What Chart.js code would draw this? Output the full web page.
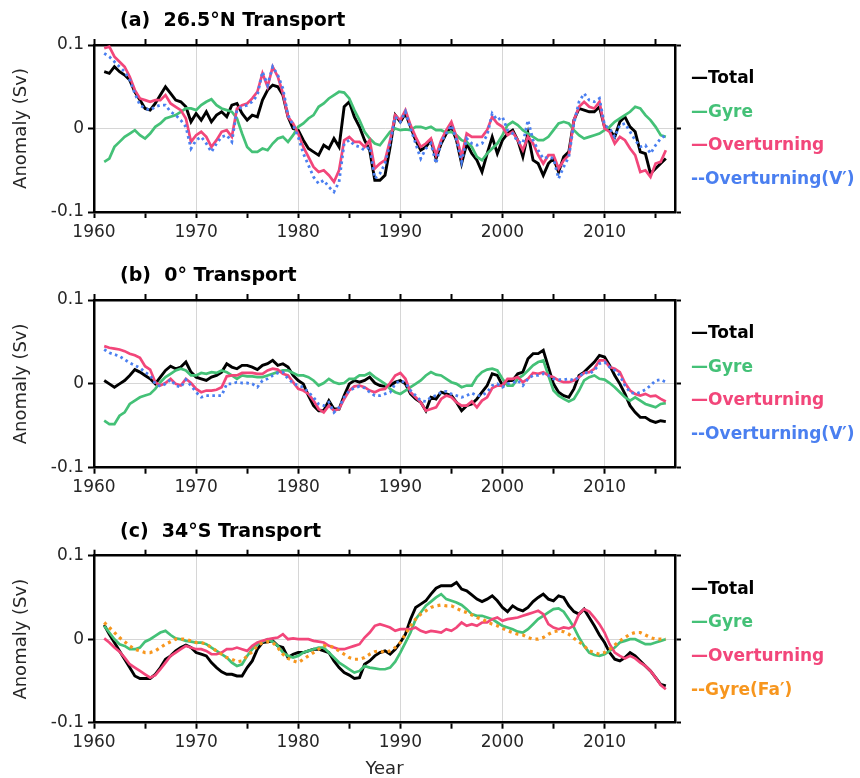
<!DOCTYPE html>
<html>
<head>
<meta charset="utf-8">
<script src="https://cdn.jsdelivr.net/npm/chart.js@4.4.1/dist/chart.umd.min.js"></script>
<style>
  html, body { margin: 0; padding: 0; background: #fff; }
  #wrap { position: relative; width: 860px; height: 778px; }
  canvas { position: absolute; left: 0; }
</style>
</head>
<body>
<div id="wrap">
  <canvas id="panelA" width="860" height="255" style="top:0px"></canvas>
  <canvas id="panelB" width="860" height="255" style="top:255px"></canvas>
  <canvas id="panelC" width="860" height="268" style="top:510px"></canvas>
</div>
<script>
// half-year samples, 1961.0 .. 2016.0
const years = Array.from({ length: 111 }, (_, i) => 1961 + i * 0.5);
const tickYears = [1960, 1965, 1970, 1975, 1980, 1985, 1990, 1995, 2000, 2005, 2010, 2015];
const yTicks = [-0.1, 0, 0.1];

// (a) 26.5N
const aTotal = [
  0.068, 0.066, 0.074, 0.068, 0.064, 0.058, 0.044, 0.034, 0.024, 0.022,
  0.030, 0.040, 0.050, 0.042, 0.034, 0.032, 0.026, 0.008, 0.018, 0.010,
  0.020, 0.008, 0.016, 0.020, 0.014, 0.028, 0.030, 0.018, 0.010, 0.016,
  0.014, 0.034, 0.046, 0.052, 0.050, 0.040, 0.014, 0.000, -0.002, -0.014,
  -0.024, -0.028, -0.032, -0.020, -0.024, -0.012, -0.022, 0.026, 0.032, 0.014,
  0.002, -0.014, -0.026, -0.062, -0.062, -0.056, -0.022, 0.016, 0.008, 0.018,
  0.002, -0.014, -0.026, -0.022, -0.014, -0.036, -0.018, -0.006, 0.002, -0.014,
  -0.042, -0.018, -0.030, -0.038, -0.052, -0.030, -0.010, -0.030, -0.014, -0.006,
  -0.002, -0.014, -0.034, -0.006, -0.038, -0.042, -0.056, -0.042, -0.036, -0.052,
  -0.034, -0.028, 0.010, 0.024, 0.022, 0.020, 0.020, 0.026, 0.002, -0.002,
  -0.010, 0.008, 0.014, 0.002, -0.004, -0.028, -0.030, -0.054, -0.048, -0.042,
  -0.036
];
const aGyre = [
  -0.040, -0.036, -0.022, -0.016, -0.010, -0.006, -0.002, -0.008, -0.012, -0.006,
  0.002, 0.006, 0.012, 0.014, 0.016, 0.020, 0.024, 0.024, 0.022, 0.028,
  0.032, 0.035, 0.028, 0.024, 0.022, 0.020, 0.012, -0.006, -0.022, -0.028,
  -0.028, -0.024, -0.026, -0.018, -0.012, -0.010, -0.016, -0.008, 0.002, 0.006,
  0.012, 0.016, 0.026, 0.030, 0.036, 0.040, 0.044, 0.043, 0.036, 0.022,
  0.010, -0.004, -0.012, -0.018, -0.020, -0.012, -0.004, 0.000, -0.002, -0.001,
  -0.002, 0.002, 0.002, 0.000, 0.002, -0.002, -0.002, -0.005, -0.004, -0.008,
  -0.014, -0.016, -0.022, -0.034, -0.038, -0.030, -0.024, -0.018, -0.008, 0.004,
  0.008, 0.004, -0.002, -0.006, -0.010, -0.014, -0.014, -0.010, -0.002, 0.006,
  0.008, 0.006, -0.002, -0.008, -0.012, -0.010, -0.008, -0.006, -0.002, 0.002,
  0.008, 0.012, 0.016, 0.020, 0.026, 0.024, 0.016, 0.010, 0.002, -0.008,
  -0.010
];
const aOver = [
  0.096, 0.098, 0.086, 0.080, 0.074, 0.062, 0.046, 0.036, 0.034, 0.032,
  0.034, 0.034, 0.040, 0.030, 0.026, 0.022, 0.012, -0.016, -0.008, -0.004,
  -0.010, -0.022, -0.014, -0.004, -0.002, -0.010, 0.024, 0.028, 0.030, 0.036,
  0.044, 0.066, 0.050, 0.074, 0.062, 0.042, 0.014, 0.006, -0.006, -0.022,
  -0.034, -0.046, -0.052, -0.050, -0.056, -0.064, -0.050, -0.014, -0.010, -0.016,
  -0.016, -0.022, -0.014, -0.048, -0.042, -0.038, -0.014, 0.016, 0.010, 0.022,
  0.004, -0.010, -0.022, -0.018, -0.012, -0.032, -0.014, -0.002, 0.008, -0.010,
  -0.034, -0.006, -0.010, -0.010, -0.010, -0.002, 0.014, 0.006, 0.002, -0.008,
  -0.004, -0.014, -0.026, -0.010, -0.018, -0.032, -0.042, -0.032, -0.032, -0.048,
  -0.038, -0.032, 0.010, 0.026, 0.032, 0.026, 0.024, 0.032, 0.000, -0.004,
  -0.018, -0.010, -0.014, -0.024, -0.032, -0.052, -0.050, -0.058, -0.042, -0.040,
  -0.026
];
const aOverV = [
  0.090, 0.086, 0.080, 0.074, 0.068, 0.058, 0.042, 0.028, 0.024, 0.022,
  0.026, 0.028, 0.028, 0.020, 0.016, 0.010, 0.002, -0.024, -0.014, -0.010,
  -0.018, -0.028, -0.018, -0.010, -0.008, -0.016, 0.022, 0.026, 0.028, 0.032,
  0.040, 0.068, 0.052, 0.074, 0.064, 0.048, 0.016, 0.004, -0.010, -0.030,
  -0.044, -0.058, -0.066, -0.062, -0.070, -0.076, -0.064, -0.018, -0.014, -0.020,
  -0.022, -0.026, -0.022, -0.060, -0.054, -0.042, -0.018, 0.014, 0.008, 0.020,
  0.000, -0.018, -0.036, -0.024, -0.018, -0.042, -0.016, -0.006, 0.004, -0.014,
  -0.040, -0.012, -0.018, -0.020, -0.018, -0.008, 0.018, 0.010, 0.014, -0.002,
  -0.006, -0.016, -0.018, 0.010, -0.014, -0.026, -0.036, -0.034, -0.036, -0.060,
  -0.046, -0.034, 0.006, 0.032, 0.042, 0.034, 0.032, 0.036, 0.004, 0.000,
  -0.010, 0.004, 0.006, -0.004, -0.014, -0.022, -0.020, -0.030, -0.020, -0.012,
  -0.008
];

// (b) 0
const bTotal = [
  0.004, 0.000, -0.004, 0.000, 0.004, 0.010, 0.017, 0.014, 0.010, 0.006,
  0.000, 0.008, 0.016, 0.021, 0.018, 0.020, 0.026, 0.014, 0.008, 0.006,
  0.004, 0.008, 0.010, 0.014, 0.024, 0.020, 0.018, 0.022, 0.022, 0.020,
  0.017, 0.022, 0.024, 0.028, 0.022, 0.024, 0.020, 0.010, 0.004, 0.000,
  -0.014, -0.026, -0.032, -0.032, -0.020, -0.030, -0.030, -0.014, 0.000, 0.004,
  0.002, 0.004, 0.008, 0.001, -0.002, -0.003, -0.002, 0.002, 0.004, 0.000,
  -0.012, -0.018, -0.022, -0.032, -0.016, -0.018, -0.010, -0.012, -0.014, -0.022,
  -0.032, -0.026, -0.024, -0.018, -0.010, -0.002, 0.012, 0.010, -0.002, 0.004,
  0.004, 0.012, 0.014, 0.030, 0.036, 0.036, 0.040, 0.020, 0.000, -0.010,
  -0.014, -0.016, -0.006, 0.010, 0.014, 0.020, 0.026, 0.034, 0.032, 0.022,
  0.010, 0.000, -0.012, -0.026, -0.034, -0.040, -0.040, -0.044, -0.046, -0.044,
  -0.045
];
const bGyre = [
  -0.044, -0.048, -0.048, -0.038, -0.034, -0.024, -0.020, -0.016, -0.014, -0.012,
  -0.006, 0.002, 0.008, 0.012, 0.016, 0.018, 0.016, 0.010, 0.010, 0.013,
  0.012, 0.014, 0.013, 0.016, 0.014, 0.010, 0.006, 0.010, 0.009, 0.009,
  0.008, 0.008, 0.010, 0.012, 0.014, 0.016, 0.016, 0.013, 0.010, 0.010,
  0.008, 0.004, -0.002, 0.001, 0.006, 0.002, 0.000, 0.001, 0.006, 0.006,
  0.010, 0.010, 0.013, 0.008, 0.004, 0.000, -0.006, -0.010, -0.012, -0.008,
  -0.004, 0.000, 0.004, 0.010, 0.014, 0.011, 0.010, 0.006, 0.002, 0.000,
  -0.004, -0.002, -0.002, 0.008, 0.014, 0.017, 0.018, 0.016, 0.006, -0.002,
  -0.002, 0.006, 0.010, 0.016, 0.022, 0.026, 0.028, 0.010, -0.008, -0.014,
  -0.018, -0.021, -0.018, -0.008, 0.004, 0.008, 0.010, 0.006, 0.005, 0.001,
  -0.004, -0.010, -0.016, -0.020, -0.016, -0.020, -0.024, -0.026, -0.028, -0.024,
  -0.023
];
const bOver = [
  0.045, 0.043, 0.042, 0.041, 0.039, 0.036, 0.034, 0.031, 0.021, 0.017,
  0.002, -0.002, 0.001, 0.006, 0.000, -0.002, 0.006, 0.001, -0.006, -0.010,
  -0.008, -0.008, -0.007, -0.004, 0.009, 0.010, 0.010, 0.013, 0.013, 0.013,
  0.012, 0.012, 0.016, 0.018, 0.017, 0.012, 0.010, 0.002, -0.006, -0.008,
  -0.012, -0.020, -0.030, -0.034, -0.026, -0.032, -0.030, -0.018, -0.008, -0.003,
  -0.002, -0.004, -0.008, -0.010, -0.007, -0.006, 0.001, 0.010, 0.013, 0.006,
  -0.010, -0.016, -0.022, -0.032, -0.030, -0.028, -0.018, -0.014, -0.016, -0.022,
  -0.026, -0.026, -0.021, -0.028, -0.020, -0.016, -0.005, -0.002, -0.002, 0.006,
  0.006, 0.008, 0.002, 0.006, 0.013, 0.012, 0.014, 0.010, 0.008, 0.004,
  0.002, 0.002, 0.004, 0.008, 0.013, 0.014, 0.018, 0.028, 0.028, 0.020,
  0.018, 0.014, 0.001, -0.008, -0.012, -0.014, -0.012, -0.015, -0.014, -0.018,
  -0.021
];
const bOverV = [
  0.041, 0.037, 0.035, 0.033, 0.029, 0.025, 0.022, 0.019, 0.014, 0.010,
  0.000, -0.003, 0.000, 0.005, -0.002, -0.004, 0.005, -0.002, -0.010, -0.016,
  -0.014, -0.014, -0.014, -0.014, 0.000, 0.000, 0.002, 0.001, 0.001, 0.000,
  -0.004, 0.004, 0.006, 0.010, 0.013, 0.014, 0.006, 0.001, -0.002, -0.004,
  -0.010, -0.016, -0.024, -0.026, -0.022, -0.034, -0.028, -0.016, -0.008, -0.005,
  -0.003, -0.005, -0.010, -0.014, -0.014, -0.012, -0.010, 0.000, 0.004, 0.001,
  -0.008, -0.014, -0.020, -0.021, -0.016, -0.014, -0.010, -0.009, -0.012, -0.014,
  -0.016, -0.014, -0.011, -0.014, -0.014, -0.010, -0.002, 0.000, -0.004, 0.000,
  0.001, 0.004, -0.002, 0.006, 0.010, 0.010, 0.012, 0.010, 0.006, 0.005,
  0.005, 0.006, 0.004, 0.008, 0.014, 0.012, 0.016, 0.024, 0.026, 0.020,
  0.016, 0.010, -0.002, -0.010, -0.012, -0.010, -0.007, -0.002, 0.004, 0.005,
  0.002
];

// (c) 34S
const cTotal = [
  0.017, 0.006, -0.004, -0.014, -0.024, -0.034, -0.044, -0.047, -0.047, -0.047,
  -0.042, -0.034, -0.024, -0.020, -0.014, -0.010, -0.007, -0.010, -0.016, -0.018,
  -0.020, -0.028, -0.034, -0.039, -0.042, -0.042, -0.044, -0.044, -0.034, -0.026,
  -0.012, -0.004, -0.003, -0.002, -0.008, -0.010, -0.022, -0.018, -0.016, -0.016,
  -0.014, -0.012, -0.012, -0.014, -0.016, -0.026, -0.034, -0.040, -0.043, -0.047,
  -0.046, -0.030, -0.026, -0.020, -0.016, -0.014, -0.018, -0.012, -0.004, 0.006,
  0.024, 0.038, 0.042, 0.046, 0.054, 0.061, 0.064, 0.064, 0.064, 0.068,
  0.060, 0.058, 0.053, 0.048, 0.045, 0.048, 0.052, 0.046, 0.038, 0.033,
  0.040, 0.036, 0.034, 0.038, 0.045, 0.050, 0.054, 0.048, 0.046, 0.052,
  0.050, 0.040, 0.033, 0.030, 0.036, 0.026, 0.016, 0.005, -0.004, -0.016,
  -0.024, -0.026, -0.022, -0.016, -0.020, -0.026, -0.032, -0.038, -0.046, -0.054,
  -0.056
];
const cGyre = [
  0.016, 0.008, 0.000, -0.006, -0.008, -0.012, -0.012, -0.010, -0.003, 0.000,
  0.004, 0.008, 0.010, 0.005, 0.001, 0.000, -0.002, -0.003, -0.004, -0.004,
  -0.006, -0.010, -0.014, -0.018, -0.022, -0.028, -0.032, -0.030, -0.020, -0.012,
  -0.006, -0.003, 0.000, -0.003, -0.008, -0.016, -0.020, -0.022, -0.020, -0.016,
  -0.014, -0.012, -0.010, -0.010, -0.016, -0.022, -0.028, -0.032, -0.036, -0.040,
  -0.038, -0.032, -0.034, -0.035, -0.036, -0.036, -0.034, -0.027, -0.016, -0.004,
  0.008, 0.024, 0.032, 0.040, 0.045, 0.050, 0.054, 0.048, 0.046, 0.044,
  0.041, 0.036, 0.030, 0.028, 0.028, 0.026, 0.024, 0.020, 0.016, 0.014,
  0.012, 0.009, 0.008, 0.012, 0.018, 0.024, 0.028, 0.032, 0.036, 0.037,
  0.033, 0.024, 0.014, 0.002, -0.008, -0.016, -0.019, -0.020, -0.018, -0.014,
  -0.010, -0.004, -0.002, 0.000, 0.000, -0.003, -0.006, -0.006, -0.004, -0.002,
  0.000
];
const cOver = [
  0.001, -0.004, -0.010, -0.015, -0.022, -0.030, -0.034, -0.038, -0.042, -0.046,
  -0.043, -0.036, -0.028, -0.020, -0.016, -0.012, -0.008, -0.010, -0.012, -0.012,
  -0.014, -0.018, -0.018, -0.016, -0.012, -0.012, -0.010, -0.012, -0.014, -0.008,
  -0.004, -0.002, 0.000, 0.001, 0.002, 0.006, 0.000, 0.001, 0.000, 0.000,
  0.000, -0.002, -0.003, -0.004, -0.008, -0.010, -0.012, -0.012, -0.010, -0.008,
  -0.006, 0.002, 0.008, 0.016, 0.018, 0.016, 0.014, 0.010, 0.012, 0.012,
  0.012, 0.014, 0.010, 0.008, 0.010, 0.009, 0.008, 0.012, 0.010, 0.014,
  0.020, 0.016, 0.018, 0.016, 0.020, 0.020, 0.024, 0.026, 0.022, 0.024,
  0.025, 0.026, 0.028, 0.030, 0.032, 0.034, 0.030, 0.018, 0.014, 0.012,
  0.014, 0.013, 0.016, 0.030, 0.036, 0.033, 0.026, 0.018, 0.008, -0.006,
  -0.016, -0.020, -0.023, -0.020, -0.023, -0.028, -0.032, -0.038, -0.046, -0.055,
  -0.060
];
const cGyreFa = [
  0.020, 0.014, 0.008, 0.002, -0.003, -0.008, -0.012, -0.014, -0.016, -0.016,
  -0.014, -0.010, -0.006, -0.003, 0.000, 0.000, 0.000, -0.002, -0.004, -0.004,
  -0.006, -0.010, -0.014, -0.018, -0.022, -0.024, -0.027, -0.026, -0.020, -0.015,
  -0.008, -0.004, -0.003, -0.004, -0.010, -0.018, -0.023, -0.026, -0.028, -0.024,
  -0.020, -0.016, -0.012, -0.008, -0.008, -0.010, -0.014, -0.018, -0.022, -0.024,
  -0.024, -0.022, -0.018, -0.015, -0.014, -0.016, -0.014, -0.010, -0.004, 0.006,
  0.016, 0.024, 0.030, 0.034, 0.038, 0.040, 0.041, 0.040, 0.040, 0.037,
  0.034, 0.032, 0.029, 0.026, 0.024, 0.021, 0.018, 0.016, 0.013, 0.010,
  0.008, 0.006, 0.005, 0.002, 0.000, 0.000, 0.002, 0.006, 0.009, 0.010,
  0.009, 0.006, 0.001, -0.003, -0.008, -0.014, -0.016, -0.018, -0.016, -0.012,
  -0.007, -0.002, 0.002, 0.006, 0.008, 0.008, 0.005, 0.002, 0.000, 0.000,
  0.000
];

const FONT = '"DejaVu Sans", "Liberation Sans", sans-serif';
const BLACK = '#000000';
const GREEN = '#44c177';
const PINK = '#f2467a';
const BLUE = '#4a7ff0';
const ORANGE = '#f7961e';
const GRID = '#d6d6d6';

const pts = arr => years.map((x, i) => ({ x, y: arr[i] }));

function line(label, arr, color, order, dotted, width) {
  return {
    label, data: pts(arr), borderColor: color, borderWidth: width || 2.7,
    borderDash: dotted ? dotted : [], pointRadius: 0, tension: 0,
    fill: false, order, dotted: !!dotted
  };
}

// titles and the coloured legend texts at the right
const panelText = {
  id: 'panelText',
  afterDraw(chart, args, opts) {
    const { ctx, chartArea } = chart;
    ctx.save();
    ctx.textAlign = 'left';
    ctx.textBaseline = 'middle';
    ctx.fillStyle = '#000';
    ctx.font = 'bold 19px ' + FONT;
    ctx.fillText(opts.title, 120, chartArea.top - 24);
    ctx.font = 'bold 17px ' + FONT;
    chart.data.datasets.forEach((ds, i) => {
      ctx.fillStyle = ds.borderColor;
      ctx.fillText((ds.dotted ? '--' : '\u2014') + ds.label, 691, chartArea.top + 33.5 + i * 33.7);
    });
    ctx.restore();
  }
};

function setTicks(list) {
  return scale => { scale.ticks = list.map(v => ({ value: v })); };
}

function makePanel(id, title, datasets, opt) {
  const tickFont = { family: FONT, size: 17 };
  const tickGrid = { tickColor: '#000', tickLength: 6, tickWidth: 2 };
  const border = { display: true, color: '#000', width: 2.5 };
  new Chart(document.getElementById(id), {
    type: 'line',
    data: { datasets },
    plugins: [panelText],
    options: {
      responsive: false,
      animation: false,
      events: [],
      layout: { padding: { left: 0, right: 177, top: opt.top - 8, bottom: 0 } },
      plugins: {
        legend: { display: false },
        tooltip: { enabled: false },
        panelText: { title }
      },
      scales: {
        x: {
          type: 'linear', position: 'bottom', min: 1960, max: 2016.9,
          afterBuildTicks: setTicks(tickYears),
          ticks: {
            autoSkip: false, maxRotation: 0, padding: 4, color: '#262626', font: tickFont,
            callback: v => (v % 10 === 0 ? String(v) : '')
          },
          grid: Object.assign({
            lineWidth: 1,
            color: c => (c.tick && c.tick.value % 10 === 0 ? GRID : 'rgba(0,0,0,0)')
          }, tickGrid),
          border,
          title: opt.xTitle
            ? { display: true, text: 'Year', color: '#262626', font: { family: FONT, size: 18, lineHeight: 1 }, padding: 0 }
            : { display: false },
          afterFit: s => { s.height = opt.bottomH; }
        },
        x2: {
          type: 'linear', position: 'top', min: 1960, max: 2016.9,
          afterBuildTicks: setTicks(tickYears),
          ticks: { display: false },
          grid: Object.assign({ drawOnChartArea: false }, tickGrid),
          border,
          afterFit: s => { s.height = 8; }
        },
        y: {
          type: 'linear', position: 'left', min: -0.1, max: 0.1,
          afterBuildTicks: setTicks(yTicks),
          ticks: {
            padding: 4, color: '#262626', font: tickFont,
            callback: v => (Math.abs(v) < 1e-9 ? '0' : v.toFixed(1))
          },
          grid: Object.assign({
            lineWidth: 1,
            color: c => (c.tick && Math.abs(c.tick.value) < 1e-9 ? GRID : 'rgba(0,0,0,0)')
          }, tickGrid),
          border,
          title: {
            display: true, text: 'Anomaly (Sv)', color: '#262626',
            font: { family: FONT, size: 18 }, padding: { top: 11, bottom: 0 }
          },
          afterFit: s => { s.width = 94; }
        },
        y2: {
          type: 'linear', position: 'right', min: -0.1, max: 0.1,
          afterBuildTicks: setTicks(yTicks),
          ticks: { display: false },
          grid: Object.assign({ drawOnChartArea: false }, tickGrid),
          border,
          afterFit: s => { s.width = 8; }
        }
      }
    }
  });
}

const dots = [2.6, 3.4];

makePanel('panelA', '(a)  26.5\u00b0N Transport', [
  line('Total', aTotal, BLACK, 3, null, 2.9),
  line('Gyre', aGyre, GREEN, 2),
  line('Overturning', aOver, PINK, 1),
  line('Overturning(V\u2032)', aOverV, BLUE, 0, dots, 2.8)
], { top: 45, bottomH: 43 });

makePanel('panelB', '(b)  0\u00b0 Transport', [
  line('Total', bTotal, BLACK, 3, null, 2.9),
  line('Gyre', bGyre, GREEN, 2),
  line('Overturning', bOver, PINK, 1),
  line('Overturning(V\u2032)', bOverV, BLUE, 0, dots, 2.8)
], { top: 45, bottomH: 42.3 });

makePanel('panelC', '(c)  34\u00b0S Transport', [
  line('Total', cTotal, BLACK, 3, null, 2.9),
  line('Gyre', cGyre, GREEN, 2),
  line('Overturning', cOver, PINK, 1),
  line('Gyre(Fa\u2032)', cGyreFa, ORANGE, 0, [3, 4], 3.2)
], { top: 45.7, bottomH: 55.3, xTitle: true });
</script>
</body>
</html>
